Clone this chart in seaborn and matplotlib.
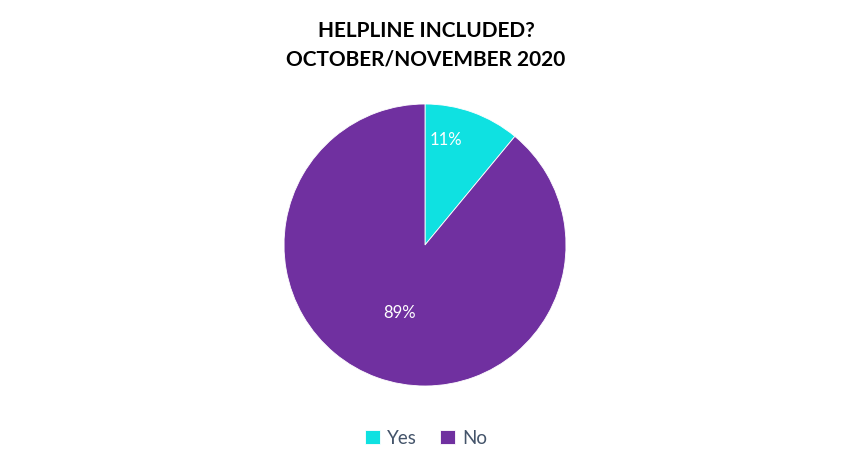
import matplotlib
matplotlib.use("Agg")
import matplotlib.pyplot as plt
import seaborn as sns

# Chart data
labels = ["Yes", "No"]
values = [11, 89]
colors = ["#0FE1E1", "#7030A0"]
title = "HELPLINE INCLUDED?\nOCTOBER/NOVEMBER 2020"

sns.set_theme(style="white")
plt.rcParams['font.family'] = ['Lato', 'DejaVu Sans']

fig = plt.figure(figsize=(8.52, 4.67), dpi=100)
# pie area: about 281 px square, centred at (425, 245)
ax = fig.add_axes([284 / 852, 81 / 467, 282 / 852, 282 / 467])

wedges, texts, autotexts = ax.pie(values, colors=colors, startangle=90, counterclock=False,
                                  autopct='%1.0f%%', radius=1.0,
                                  wedgeprops={'edgecolor': 'white', 'linewidth': 0.6},
                                  textprops={'color': 'white', 'fontsize': 12})
ax.set_xlim(-1, 1)
ax.set_ylim(-1, 1)
ax.set_aspect('equal')

# Excel-like label spots
autotexts[0].set_position((0.15, 0.745))
autotexts[1].set_position((-0.18, -0.48))

fig.text(0.5, 0.954, title, ha='center', va='top', fontsize=15, fontweight='bold',
         color='black', linespacing=1.5)

fig.legend(wedges, labels, loc='center', bbox_to_anchor=(0.5, 1 - 438 / 467),
           ncol=2, frameon=False, fontsize=13.5, labelcolor='#44546A',
           handlelength=0.8, handleheight=0.8, handletextpad=0.4, columnspacing=1.2)

fig.savefig("out.png", dpi=100, facecolor='white')
